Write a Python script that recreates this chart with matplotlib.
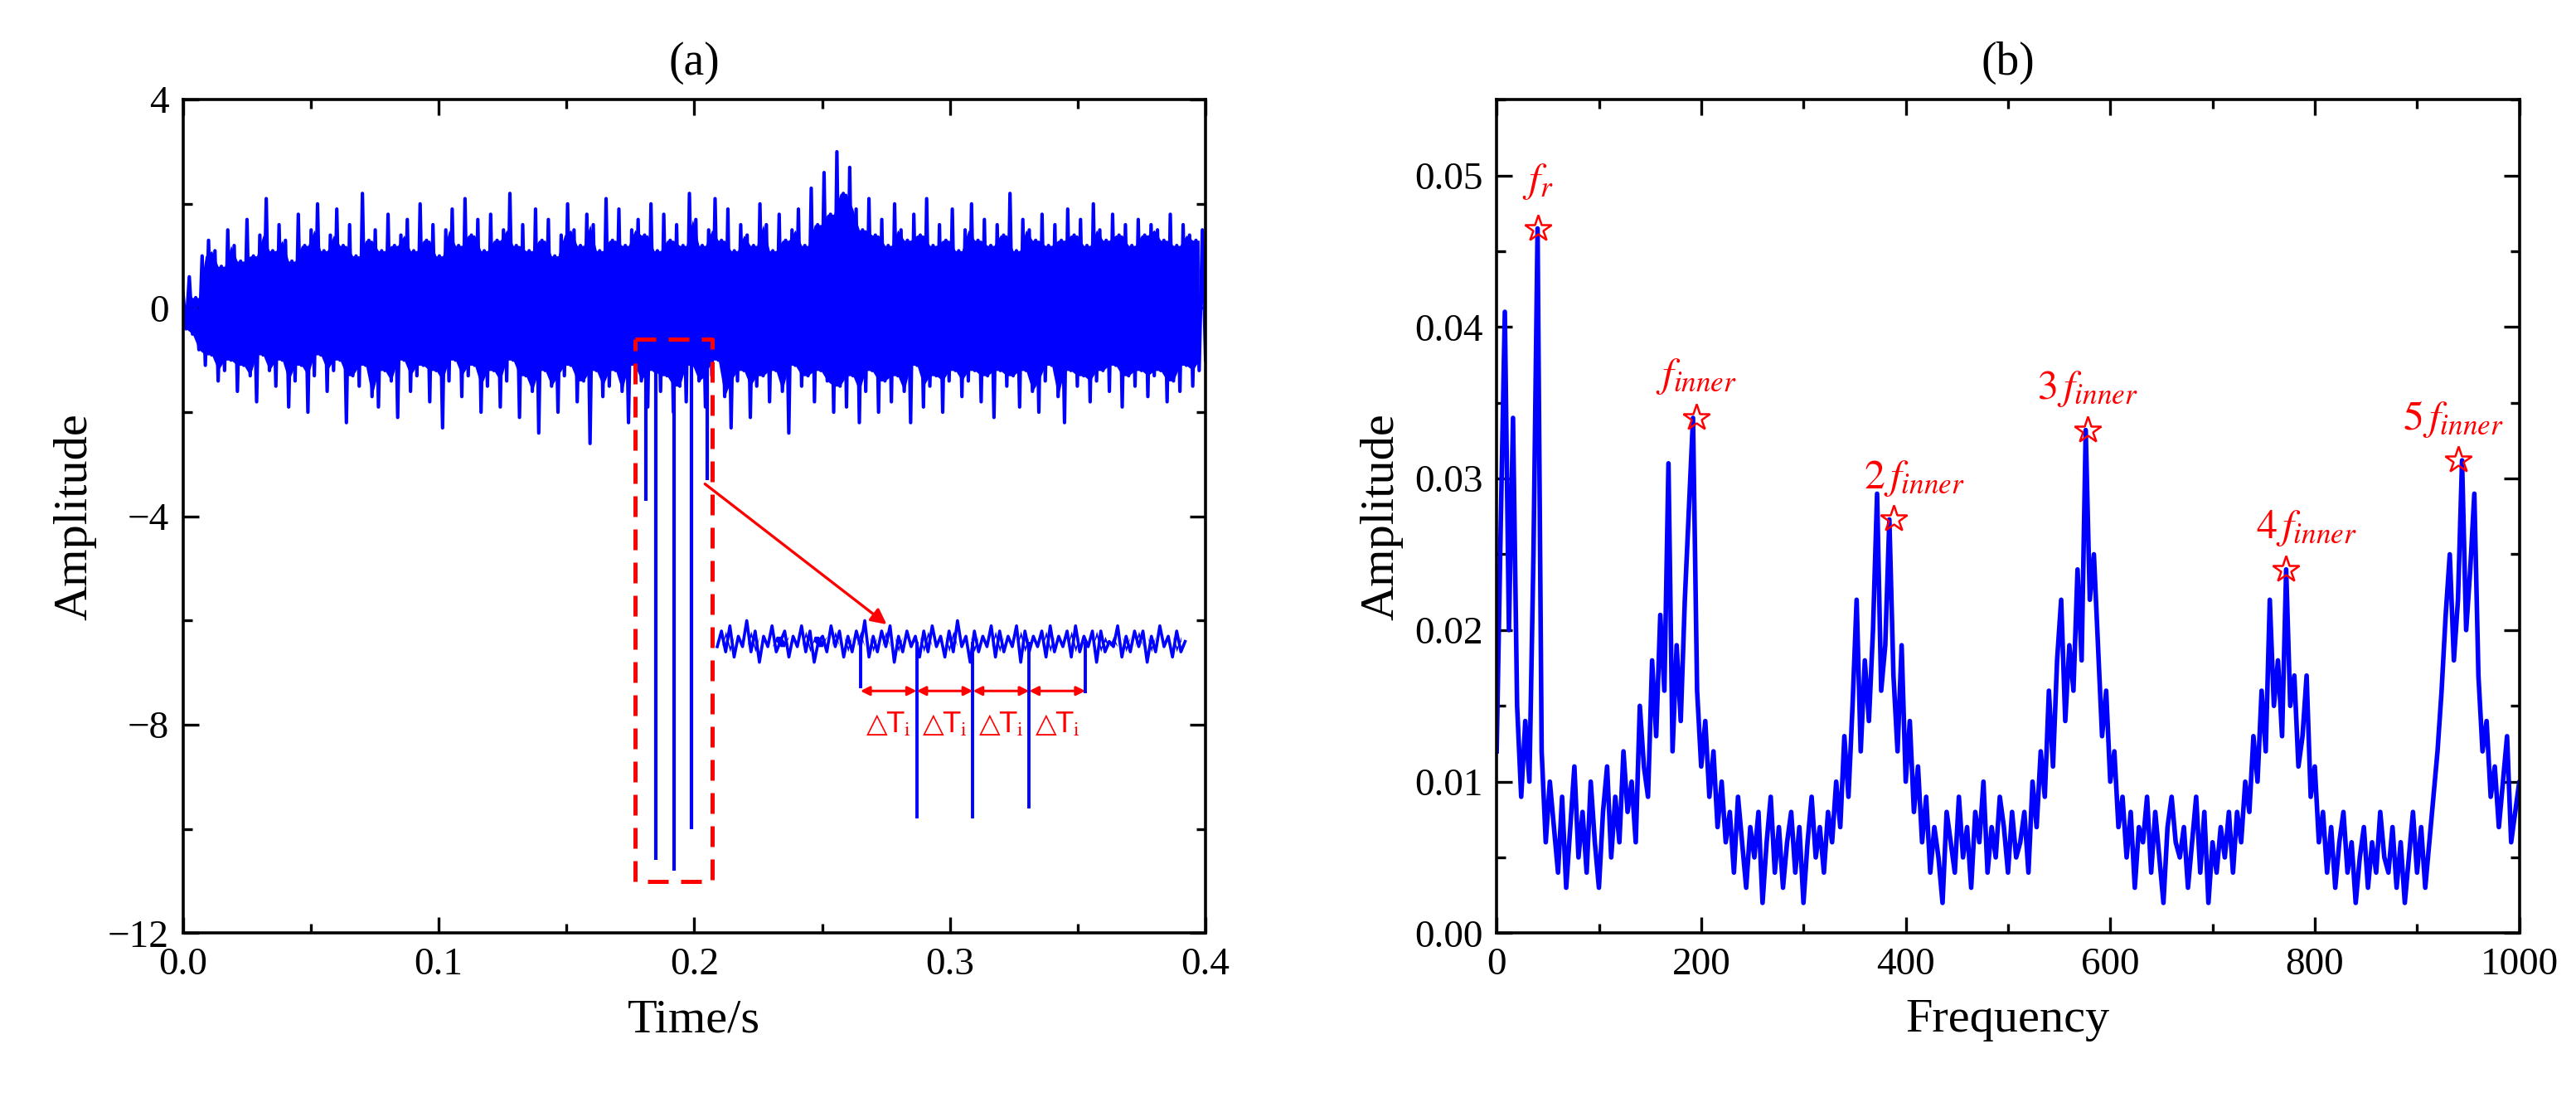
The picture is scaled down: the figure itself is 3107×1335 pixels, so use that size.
import numpy as np
import matplotlib
matplotlib.use("Agg")
import matplotlib.pyplot as plt
from matplotlib.ticker import MultipleLocator

BLUE = "#0000ff"
RED = "#ff0000"
SERIF = ["Liberation Serif", "DejaVu Serif"]

# ---- (a) raw vibration signal ----
SIG = [
    0.3, -0.4, 0.6, -0.5, 0.2, -0.8, 1.0, -1.1, 1.3, -0.9, 1.1, -1.4, 0.8, -1.2, 1.5, -1.0,
    1.2, -1.6, 0.9, -1.1, 1.7, -1.3, 1.0, -1.8, 1.4, -0.9, 2.1, -1.2, 1.1, -1.5, 1.6, -1.0,
    1.3, -1.9, 0.9, -1.4, 1.8, -1.1, 1.2, -2.0, 1.5, -1.3, 2.0, -0.9, 1.1, -1.6, 1.4, -1.2,
    1.9, -1.0, 1.2, -2.2, 1.6, -1.3, 1.0, -1.5, 2.2, -1.1, 1.3, -1.7, 1.5, -1.9, 1.1, -1.2,
    1.8, -1.4, 1.2, -2.1, 1.4, -1.0, 1.7, -1.6, 1.1, -1.3, 2.0, -1.1, 1.3, -1.8, 1.6, -1.2,
    1.0, -2.3, 1.5, -1.4, 1.9, -1.0, 1.2, -1.7, 2.1, -1.3, 1.4, -1.1, 1.7, -2.0, 1.1, -1.5,
    1.8, -1.2, 1.3, -1.9, 1.5, -1.4, 2.2, -1.0, 1.2, -2.1, 1.6, -1.3, 1.1, -1.6, 1.9, -2.4,
    1.3, -1.2, 1.7, -1.5, 1.0, -2.0, 1.4, -1.3, 2.0, -1.1, 1.5, -1.8, 1.2, -1.4, 1.8, -2.6,
    1.6, -1.2, 1.1, -1.7, 2.1, -1.5, 1.3, -1.2, 1.9, -1.6, 1.2, -2.2, 1.5, -1.1, 1.7, -1.4,
    1.4, -1.9, 2.0, -1.2, 1.1, -1.6, 1.8, -1.3, 1.3, -2.0, 1.6, -1.5, 1.2, -1.8, 2.2, -1.1,
    1.7, -1.4, 1.2, -1.9, 1.5, -1.3, 2.1, -1.0, 1.3, -1.7, 1.9, -2.3, 1.1, -1.4, 1.6, -1.2,
    1.4, -2.1, 1.2, -1.5, 2.0, -1.3, 1.6, -1.8, 1.1, -1.2, 1.8, -1.6, 1.3, -2.4, 1.5, -1.1,
    1.9, -1.5, 1.2, -1.3, 2.3, -1.8, 1.6, -1.2, 2.6, -1.4, 1.8, -2.0, 3.0, -1.5, 2.2, -1.9,
    2.7, -1.3, 1.9, -2.2, 1.5, -1.6, 2.1, -1.2, 1.4, -2.0, 1.7, -1.4, 1.2, -1.8, 2.0, -1.3,
    1.5, -1.6, 1.3, -2.2, 1.8, -1.1, 1.4, -1.9, 2.1, -1.5, 1.2, -1.3, 1.6, -2.0, 1.3, -1.4,
    1.9, -1.2, 1.1, -1.7, 1.5, -1.4, 2.0, -1.2, 1.3, -1.8, 1.7, -1.3, 1.2, -2.1, 1.6, -1.2,
    1.4, -1.5, 2.2, -1.3, 1.1, -1.9, 1.7, -1.2, 1.5, -1.6, 1.3, -2.0, 1.8, -1.4, 1.2, -1.1,
    1.6, -1.7, 1.3, -2.2, 1.9, -1.2, 1.4, -1.5, 1.7, -1.3, 1.2, -1.8, 2.0, -1.4, 1.5, -1.2,
    1.3, -1.6, 1.8, -1.1, 1.4, -1.9, 1.6, -1.3, 1.2, -1.5, 1.7, -1.2, 1.4, -1.7, 1.6, -1.3,
    1.5, -1.2, 1.3, -1.8, 1.8, -1.4, 1.2, -1.6, 1.6, -1.1, 1.4, -1.5, 1.3, -1.2, 1.5, -1.0,
]
IMP_T = [0.181, 0.185, 0.192, 0.199, 0.205]
IMP_A = [-3.7, -10.6, -10.8, -10.0, -3.3]

# zoomed-in inset signal (drawn at its own offset)
INSET = [
    -6.5, -6.2, -6.6, -6.1, -6.7, -6.3, -6.5, -6.0, -6.6, -6.2, -6.8, -6.3, -6.5, -6.1, -6.6, -6.4,
    -6.2, -6.7, -6.3, -6.5, -6.1, -6.6, -6.2, -6.8, -6.4, -6.3, -6.6, -6.1, -6.5, -6.2, -6.7, -6.3,
    -6.6, -6.2, -6.5, -6.0, -6.7, -6.3, -6.6, -6.2, -6.5, -6.1, -6.8, -6.3, -6.6, -6.2, -6.5, -6.3,
    -6.7, -6.2, -6.6, -6.1, -6.5, -6.3, -6.7, -6.2, -6.6, -6.0, -6.5, -6.3, -6.8, -6.2, -6.6, -6.3,
    -6.5, -6.1, -6.7, -6.2, -6.6, -6.3, -6.5, -6.1, -6.8, -6.2, -6.6, -6.3, -6.5, -6.2, -6.7, -6.1,
    -6.6, -6.3, -6.5, -6.2, -6.7, -6.1, -6.6, -6.3, -6.5, -6.2, -6.8, -6.2, -6.6, -6.4, -6.5, -6.1,
    -6.7, -6.3, -6.6, -6.2, -6.5, -6.2, -6.8, -6.3, -6.6, -6.1, -6.5, -6.3, -6.7, -6.2, -6.6, -6.4,
]
INSET_T0, INSET_T1 = 0.209, 0.392
INSET_IMP_T = [0.265, 0.287, 0.309, 0.331, 0.353]
INSET_IMP_A = [-7.3, -9.8, -9.8, -9.6, -7.4]

# ---- (b) envelope spectrum, 0..1000 Hz in 4 Hz steps ----
SPEC = [
    0.012, 0.027, 0.041, 0.020, 0.034, 0.015, 0.009, 0.014, 0.010, 0.025, 0.0465, 0.012, 0.006, 0.010, 0.007,
    0.004, 0.009, 0.003, 0.007, 0.011, 0.005, 0.008, 0.004, 0.010, 0.006, 0.003, 0.008, 0.011, 0.005, 0.009,
    0.006, 0.012, 0.008, 0.010, 0.006, 0.015, 0.011, 0.009, 0.018, 0.013, 0.021, 0.016, 0.031, 0.012,
    0.019, 0.014, 0.022, 0.028, 0.034, 0.016, 0.011, 0.014, 0.009, 0.012, 0.007, 0.010, 0.006,
    0.008, 0.004, 0.009, 0.006, 0.003, 0.007, 0.005, 0.008, 0.002, 0.006, 0.009, 0.004, 0.007, 0.003,
    0.006, 0.008, 0.004, 0.007, 0.002, 0.006, 0.009, 0.005, 0.007, 0.004, 0.008, 0.006,
    0.010, 0.007, 0.013, 0.009, 0.015, 0.022, 0.012, 0.018, 0.014, 0.020, 0.029, 0.016, 0.019, 0.0273,
    0.017, 0.012, 0.019, 0.010, 0.014, 0.008, 0.011, 0.006, 0.009, 0.004, 0.007, 0.005, 0.002,
    0.008, 0.006, 0.004, 0.009, 0.005, 0.007, 0.003, 0.008, 0.006, 0.010, 0.004, 0.007, 0.005, 0.009,
    0.007, 0.004, 0.008, 0.005,
    0.006, 0.008, 0.004, 0.010, 0.007, 0.012, 0.009, 0.016, 0.011, 0.018, 0.022, 0.014, 0.019,
    0.016, 0.024, 0.018, 0.0332, 0.022, 0.025, 0.019, 0.013, 0.016, 0.010, 0.012, 0.007, 0.009,
    0.005, 0.008, 0.003, 0.007, 0.006, 0.009, 0.004, 0.008, 0.005, 0.002, 0.007, 0.009, 0.006,
    0.005, 0.007, 0.003, 0.006, 0.009, 0.004, 0.008, 0.002, 0.006, 0.004, 0.007, 0.005, 0.008,
    0.004, 0.008, 0.006, 0.010, 0.008, 0.013, 0.010, 0.016, 0.012, 0.022, 0.015, 0.018, 0.013,
    0.024, 0.015, 0.017, 0.011, 0.013, 0.017, 0.009, 0.011, 0.006, 0.008, 0.004, 0.007,
    0.003, 0.006, 0.008, 0.004, 0.006, 0.002, 0.005, 0.007, 0.003, 0.006, 0.004, 0.008, 0.005,
    0.004, 0.007, 0.003, 0.006, 0.002, 0.005, 0.008, 0.004,
    0.007, 0.003, 0.006, 0.009, 0.012, 0.016, 0.021, 0.025, 0.018, 0.022, 0.0312, 0.020, 0.024,
    0.029, 0.017, 0.012, 0.014, 0.009, 0.011, 0.007, 0.010, 0.013, 0.006, 0.008, 0.010, 0.006, 0.009,
    0.002,
]

PEAK_F = [40, 195, 388, 578, 772, 940]
PEAK_A = [0.0465, 0.034, 0.0273, 0.0332, 0.024, 0.0312]
PEAK_LBL = [r"$f_r$", r"$f_{inner}$", r"$2\,f_{inner}$", r"$3\,f_{inner}$",
            r"$4\,f_{inner}$", r"$5\,f_{inner}$"]
PEAK_DX = [0, 0, 20, 0, 20, -5]
PEAK_DY = [0.0018, 0.0014, 0.0014, 0.0014, 0.0014, 0.0014]

plt.rcParams["mathtext.fontset"] = "stix"
plt.rcParams["font.family"] = SERIF

fig = plt.figure(figsize=(31.07, 13.35), dpi=100)
ax1 = fig.add_axes([0.071, 0.157, 0.397, 0.753])
ax2 = fig.add_axes([0.581, 0.157, 0.397, 0.753])


def style(ax):
    ax.tick_params(which="both", direction="in", top=True, right=True, labelsize=34, width=2.4)
    ax.tick_params(which="major", length=14, pad=12)
    ax.tick_params(which="minor", length=8)
    for s in ax.spines.values():
        s.set_linewidth(2.6)


# ---- (a) ----
sig = np.array(SIG)
t = np.linspace(0, 0.4, len(sig))
# solid core of the band: the smaller of neighbouring peaks on each side
hi = np.minimum(sig[0:-2:2], sig[2::2])
lo = np.maximum(sig[1:-2:2], sig[3::2])
tc = t[1:-2:2]
ax1.fill_between(tc, lo, hi, color=BLUE, lw=0)
ax1.plot(t, sig, color=BLUE, lw=3.0)
ax1.vlines(IMP_T, 0, IMP_A, color=BLUE, lw=3.0)

ins = np.array(INSET)
ti = np.linspace(INSET_T0, INSET_T1, len(ins))
ax1.fill_between(ti[1:-1], np.maximum(ins[:-2], ins[2:]).clip(max=-6.3),
                 np.minimum(ins[:-2], ins[2:]).clip(min=-6.5), color=BLUE, lw=0)
ax1.plot(ti, ins, color=BLUE, lw=2.6)
ax1.vlines(INSET_IMP_T, -6.4, INSET_IMP_A, color=BLUE, lw=2.8)

ax1.plot([0.177, 0.207, 0.207, 0.177, 0.177], [-0.6, -0.6, -11.0, -11.0, -0.6],
         color=RED, lw=3.6, ls=(0, (5, 3)))
ax1.annotate("", xy=(0.276, -6.1), xytext=(0.2035, -3.35),
             arrowprops=dict(arrowstyle="-|>", color=RED, lw=2.4, mutation_scale=28))
for a, b in zip(INSET_IMP_T[:-1], INSET_IMP_T[1:]):
    ax1.annotate("", xy=(a, -7.35), xytext=(b, -7.35),
                 arrowprops=dict(arrowstyle="<|-|>", color=RED, lw=2.2, mutation_scale=16,
                                 shrinkA=0, shrinkB=0))
    ax1.text((a + b) / 2, -8.0, "\u25b3T$_\\mathrm{i}$", color=RED, fontsize=24,
             ha="center", va="center", family="DejaVu Sans")

ax1.set_xlim(0, 0.4)
ax1.set_ylim(-12, 4)
ax1.set_xticks([0.0, 0.1, 0.2, 0.3, 0.4])
ax1.set_yticks([4, 0, -4, -8, -12])
ax1.set_yticklabels(["4", "0", "\u22124", "\u22128", "\u221212"])
ax1.xaxis.set_minor_locator(MultipleLocator(0.05))
ax1.yaxis.set_minor_locator(MultipleLocator(2))
style(ax1)
ax1.set_xlabel("Time/s", fontsize=42, labelpad=14)
ax1.set_ylabel("Amplitude", fontsize=42, labelpad=10)
ax1.set_title("(a)", fontsize=40, pad=22)

# ---- (b) ----
f = np.arange(len(SPEC)) * 4
ax2.plot(f, SPEC, color=BLUE, lw=4.0)
ax2.plot(PEAK_F, PEAK_A, ls="none", marker="*", ms=24, mfc="none", mec=RED, mew=1.8)
for x, y, s, dx, dy in zip(PEAK_F, PEAK_A, PEAK_LBL, PEAK_DX, PEAK_DY):
    ax2.text(x + dx, y + dy, s, color=RED, fontsize=36, ha="center", va="bottom")

ax2.set_xlim(0, 1000)
ax2.set_ylim(0, 0.055)
ax2.set_xticks([0, 200, 400, 600, 800, 1000])
ax2.set_yticks([0.0, 0.01, 0.02, 0.03, 0.04, 0.05])
ax2.set_yticklabels(["0.00", "0.01", "0.02", "0.03", "0.04", "0.05"])
ax2.xaxis.set_minor_locator(MultipleLocator(100))
ax2.yaxis.set_minor_locator(MultipleLocator(0.005))
style(ax2)
ax2.set_xlabel("Frequency", fontsize=42, labelpad=14)
ax2.set_ylabel("Amplitude", fontsize=42, labelpad=10)
ax2.set_title("(b)", fontsize=40, pad=22)

fig.savefig("out.png", dpi=100, facecolor="white")
